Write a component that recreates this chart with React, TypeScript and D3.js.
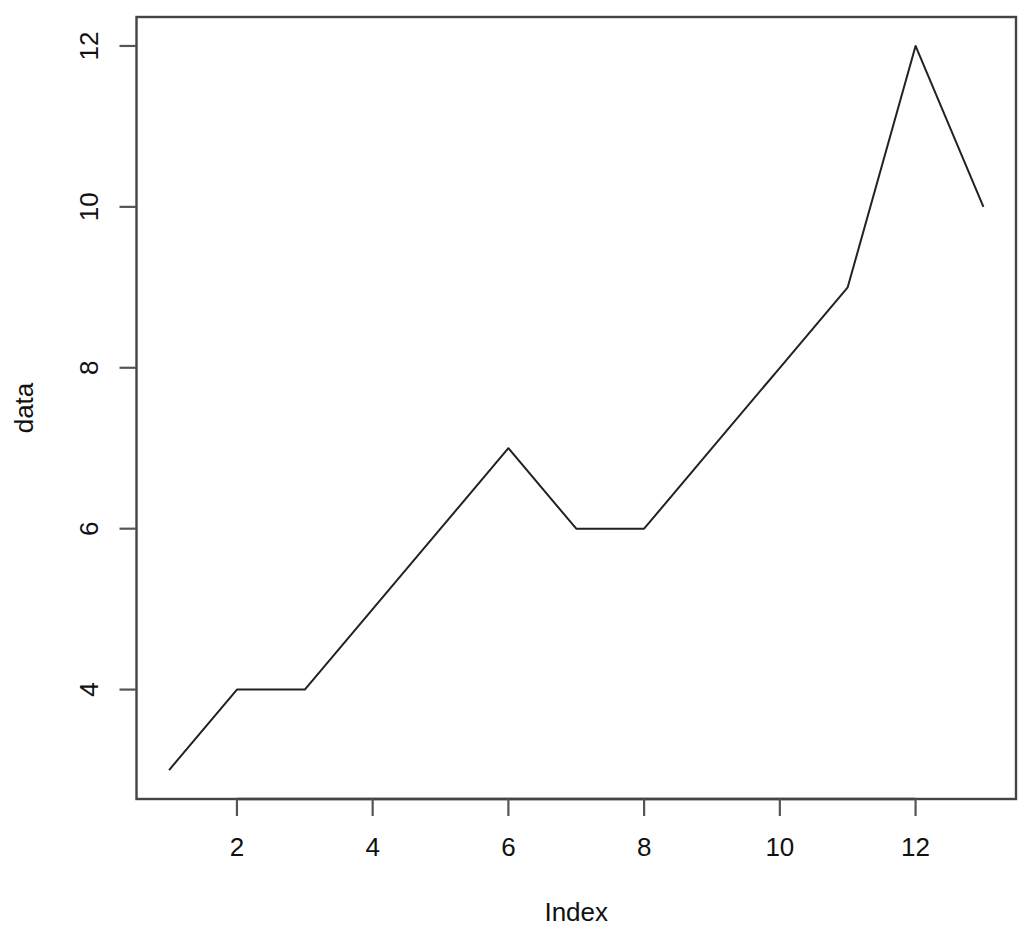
import React from "react";
import * as d3 from "d3";

const indexValues = [1, 2, 3, 4, 5, 6, 7, 8, 9, 10, 11, 12, 13];
const dataValues = [3, 4, 4, 5, 6, 7, 6, 6, 7, 8, 9, 12, 10];
const xTicks = [2, 4, 6, 8, 10, 12];
const yTicks = [4, 6, 8, 10, 12];
const xLabel = "Index";
const yLabel = "data";

const W = 1022;
const H = 938;
const left = 136.5;
const right = 1016;
const top = 17;
const bottom = 799;
const FONT = "'Liberation Sans', Arial, Helvetica, sans-serif";
const FS = 26;

export default function App() {
  const xExt = d3.extent(indexValues) as [number, number];
  const yExt = d3.extent(dataValues) as [number, number];
  const xPad = (xExt[1] - xExt[0]) * 0.04;
  const yPad = (yExt[1] - yExt[0]) * 0.04;
  const x = d3.scaleLinear().domain([xExt[0] - xPad, xExt[1] + xPad]).range([left, right]);
  const y = d3.scaleLinear().domain([yExt[0] - yPad, yExt[1] + yPad]).range([bottom, top]);
  const line = d3
    .line<number>()
    .x((_, i) => x(indexValues[i]))
    .y((d) => y(d));

  return (
    <svg
      width={W}
      height={H}
      style={{ position: "absolute", left: 0, top: 0, background: "#fff" }}
      fontFamily={FONT}
    >
      <rect x={0} y={0} width={W} height={H} fill="#fff" />
      <path d={line(dataValues) || ""} fill="none" stroke="#222" strokeWidth={2} strokeLinejoin="round" />
      <rect x={left} y={top} width={right - left} height={bottom - top} fill="none" stroke="#444" strokeWidth={2.4} />
      {/* x axis */}
      <line x1={x(xTicks[0])} x2={x(xTicks[xTicks.length - 1])} y1={bottom} y2={bottom} stroke="#444" strokeWidth={2.4} />
      {xTicks.map((t) => (
        <g key={"x" + t}>
          <line x1={x(t)} x2={x(t)} y1={bottom} y2={bottom + 17} stroke="#555" strokeWidth={2.2} />
          <text x={x(t)} y={856} textAnchor="middle" fontSize={FS} fill="#111">
            {t}
          </text>
        </g>
      ))}
      {/* y axis */}
      {yTicks.map((t) => (
        <g key={"y" + t}>
          <line x1={left - 17} x2={left} y1={y(t)} y2={y(t)} stroke="#555" strokeWidth={2.2} />
          <text transform={`translate(98,${y(t)}) rotate(-90)`} textAnchor="middle" fontSize={FS} fill="#111">
            {t}
          </text>
        </g>
      ))}
      <text x={(left + right) / 2} y={921} textAnchor="middle" fontSize={FS} fill="#111">
        {xLabel}
      </text>
      <text transform={`translate(33,${(top + bottom) / 2}) rotate(-90)`} textAnchor="middle" fontSize={FS} fill="#111">
        {yLabel}
      </text>
    </svg>
  );
}
